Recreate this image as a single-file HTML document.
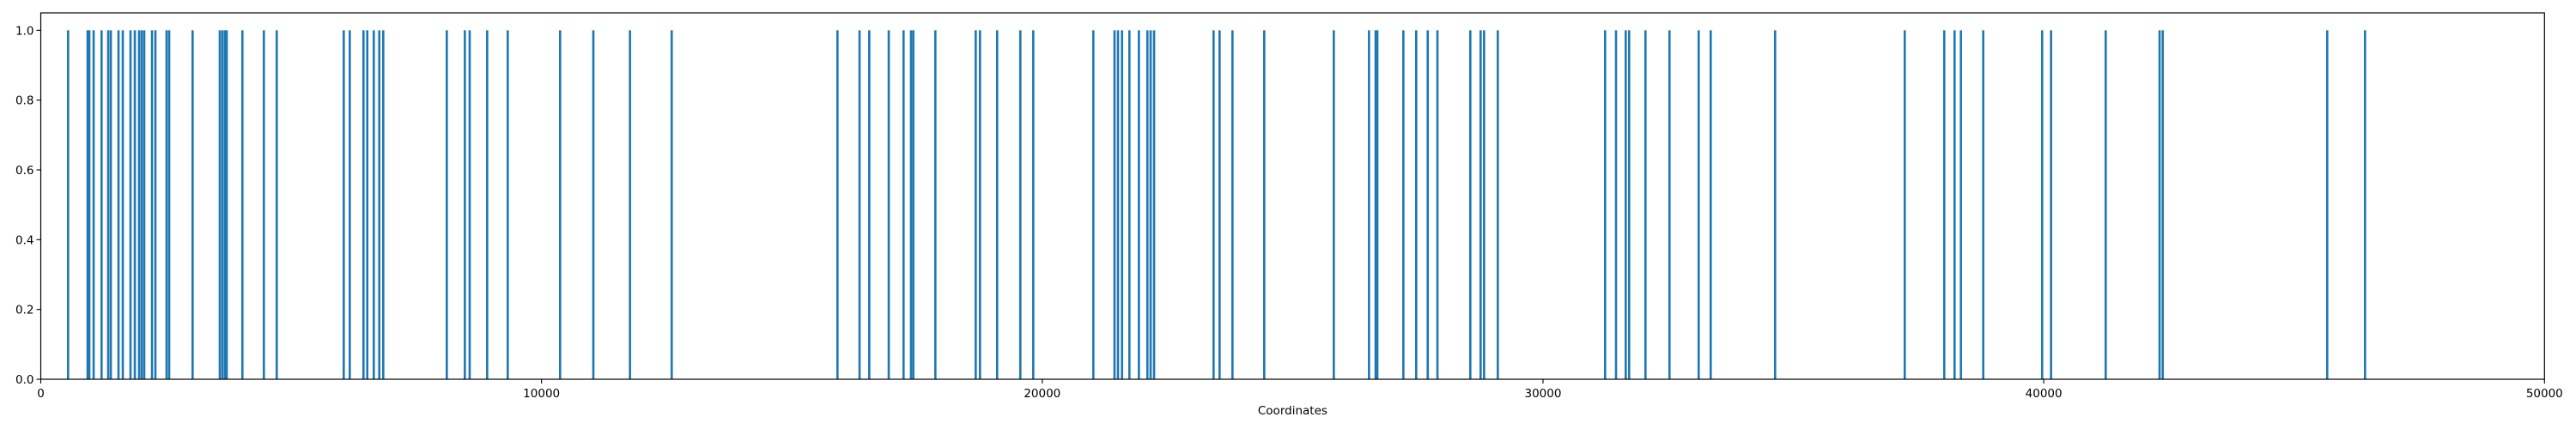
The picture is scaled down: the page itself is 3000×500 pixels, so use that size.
<!DOCTYPE html>
<html><head><meta charset="utf-8"><style>
html,body{margin:0;padding:0;background:#fff;}
svg{display:block;font-family:"DejaVu Sans","Liberation Sans",sans-serif;}
</style></head><body>
<svg id="chart" width="3000" height="500" viewBox="0 0 3000 500">
<rect x="0" y="0" width="3000" height="500" fill="#fff"/>
<g id="bars"></g>
<g id="axes"></g>
</svg>
<script>
const coords = [545,935,969,1055,1214,1346,1398,1552,1638,1792,1878,1963,2015,2066,2221,2289,2512,2564,3032,3575,3627,3678,3713,4026,4455,4712,6050,6170,6444,6520,6650,6760,6839,8108,8468,8565,8914,9325,10371,11035,11767,12600,15910,16351,16545,16934,17230,17379,17425,17865,18671,18756,19099,19562,19820,21020,21443,21512,21593,21740,21929,22100,22164,22233,23421,23541,23798,24433,25822,26525,26657,26691,27211,27468,27698,27892,28548,28754,28823,29097,31240,31458,31652,31720,32046,32526,33109,33349,34635,37224,38013,38219,38346,38792,39968,40146,41237,42313,42376,45661,46416];
const heights = coords.map(() => 1);
const xTicks = [0,10000,20000,30000,40000,50000];
const yTicks = [0.0,0.2,0.4,0.6,0.8,1.0];
const barWidth = 45;

const L=47.5,R=2963.3,T=15,B=442;
const xMin=0,xMax=50000,yMin=0,yMax=1.05;
const sx=v=>L+(v-xMin)/(xMax-xMin)*(R-L);
const sy=v=>B-(v-yMin)/(yMax-yMin)*(B-T);
const NS="http://www.w3.org/2000/svg";
const bars=document.getElementById('bars');
coords.forEach((c,i)=>{
  const r=document.createElementNS(NS,'rect');
  const x0=sx(c-barWidth/2), x1=sx(c+barWidth/2);
  r.setAttribute('x',x0);r.setAttribute('width',x1-x0);
  r.setAttribute('y',sy(heights[i]));r.setAttribute('height',sy(0)-sy(heights[i]));
  r.setAttribute('fill','#1f77b4');
  
  
  bars.appendChild(r);
});
const axes=document.getElementById('axes');
const frame=document.createElementNS(NS,'rect');
frame.setAttribute('x',L);frame.setAttribute('y',T);frame.setAttribute('width',R-L);frame.setAttribute('height',B-T);
frame.setAttribute('fill','none');frame.setAttribute('stroke','#000');frame.setAttribute('stroke-width','1.2');


axes.appendChild(frame);
xTicks.forEach(t=>{
  const l=document.createElementNS(NS,'line');
  l.setAttribute('x1',sx(t));l.setAttribute('x2',sx(t));l.setAttribute('y1',B);l.setAttribute('y2',B+5);
  l.setAttribute('stroke','#000');l.setAttribute('stroke-width','1.1');
  
  
  axes.appendChild(l);
  const tx=document.createElementNS(NS,'text');
  tx.setAttribute('x',sx(t));tx.setAttribute('y',B+21);tx.setAttribute('text-anchor','middle');
  tx.setAttribute('font-size','13.5');tx.textContent=String(t);
  
  
  axes.appendChild(tx);
});
yTicks.forEach(t=>{
  const l=document.createElementNS(NS,'line');
  l.setAttribute('x1',L-5);l.setAttribute('x2',L);l.setAttribute('y1',sy(t));l.setAttribute('y2',sy(t));
  l.setAttribute('stroke','#000');l.setAttribute('stroke-width','1.1');
  
  
  axes.appendChild(l);
  const tx=document.createElementNS(NS,'text');
  tx.setAttribute('x',L-8);tx.setAttribute('y',sy(t)+5);tx.setAttribute('text-anchor','end');
  tx.setAttribute('font-size','13.5');tx.textContent=t.toFixed(1);
  
  
  axes.appendChild(tx);
});
const xl=document.createElementNS(NS,'text');
xl.setAttribute('x',(L+R)/2);xl.setAttribute('y',483);xl.setAttribute('text-anchor','middle');
xl.setAttribute('font-size','13.5');xl.textContent='Coordinates';


axes.appendChild(xl);
</script>
</body></html>
